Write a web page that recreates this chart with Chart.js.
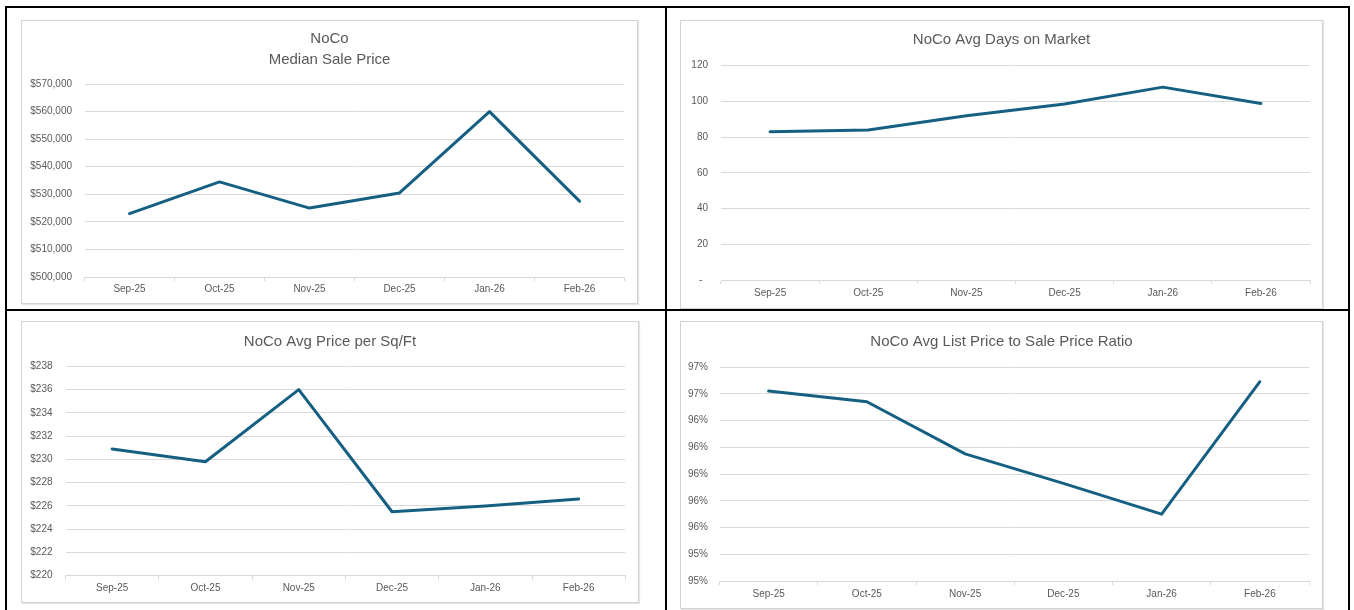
<!DOCTYPE html>
<html>
<head>
<meta charset="utf-8">
<title>NoCo Market Trends</title>
<script src="https://cdn.jsdelivr.net/npm/chart.js@4.4.1/dist/chart.umd.min.js"></script>
<style>
  html, body { margin: 0; padding: 0; background: #fff; }
  body { position: relative; width: 1354px; height: 610px; overflow: hidden; }
  .rule { position: absolute; background: #000; }
  .frame { position: absolute; box-sizing: border-box; border: 1px solid #d3d3d3;
           box-shadow: 1px 1px 1px rgba(0,0,0,0.10); background: #fff; }
  .frame canvas { display: block; }
</style>
</head>
<body>
<!-- table rules around the four charts -->
<div class="rule" style="left:5px;top:6px;width:1345px;height:2px"></div>
<div class="rule" style="left:5px;top:6px;width:2px;height:604px"></div>
<div class="rule" style="left:1348px;top:6px;width:2px;height:604px"></div>
<div class="rule" style="left:665px;top:6px;width:2px;height:604px"></div>
<div class="rule" style="left:5px;top:309px;width:1345px;height:2px"></div>

<div class="frame" style="left:21px;top:20px;width:617px;height:284px"><canvas id="cPrice" width="615" height="282"></canvas></div>
<div class="frame" style="left:680px;top:20px;width:643px;height:289px"><canvas id="cDays" width="641" height="287"></canvas></div>
<div class="frame" style="left:21px;top:321px;width:618px;height:282px"><canvas id="cSqft" width="616" height="280"></canvas></div>
<div class="frame" style="left:680px;top:321px;width:643px;height:288px"><canvas id="cRatio" width="641" height="286"></canvas></div>

<script>
// Months shown on every chart
const months = ['Sep-25', 'Oct-25', 'Nov-25', 'Dec-25', 'Jan-26', 'Feb-26'];

// Series values
const medianSalePrice = [523000, 534500, 525000, 530500, 560000, 527500];
const avgDaysOnMarket = [83, 84, 92, 98.6, 108, 98.8];
const avgPricePerSqFt = [230.9, 229.8, 236.0, 225.5, 226.0, 226.6];
const listToSaleRatio = [96.62, 96.54, 96.15, 95.93, 95.70, 96.69]; // percent

// Value-axis tick values
const priceTicks = [500000, 510000, 520000, 530000, 540000, 550000, 560000, 570000];
const daysTicks = [0, 20, 40, 60, 80, 100, 120];
const sqftTicks = [220, 222, 224, 226, 228, 230, 232, 234, 236, 238];
const ratioTicks = [95.2, 95.4, 95.6, 95.8, 96.0, 96.2, 96.4, 96.6, 96.8];

const TEXT = '#595959';
const GRID = '#d9d9d9';
const LINE = '#156082';
const FONT = "'Liberation Sans', Arial, sans-serif";

Chart.defaults.font.family = FONT;
Chart.defaults.color = TEXT;

function lineChart(id, p) {
  const ticks = p.ticks;
  return new Chart(document.getElementById(id), {
    type: 'line',
    data: {
      labels: months,
      datasets: [{
        data: p.values,
        borderColor: LINE,
        borderWidth: 3,
        pointRadius: 0,
        pointHoverRadius: 0,
        tension: 0,
        borderJoinStyle: 'round',
        borderCapStyle: 'round',
        fill: false,
        clip: false
      }]
    },
    options: {
      responsive: false,
      animation: false,
      devicePixelRatio: 1,
      layout: { padding: 0 },
      plugins: {
        legend: { display: false },
        tooltip: { enabled: false },
        title: {
          display: true,
          text: p.title,
          color: TEXT,
          font: { family: FONT, size: 15, weight: 'normal', lineHeight: 1.4 },
          padding: { top: p.titleTop, bottom: p.titleBottom }
        }
      },
      scales: {
        x: {
          offset: true,
          grid: { display: true, offset: true, drawOnChartArea: false, drawTicks: true,
                  tickLength: 4, color: GRID },
          border: { display: true, color: GRID, width: 1 },
          ticks: { color: TEXT, font: { size: 10 }, padding: p.xPad, maxRotation: 0, autoSkip: false },
          afterFit: s => { s.height = p.xHeight; }
        },
        y: {
          min: ticks[0],
          max: ticks[ticks.length - 1],
          ticks: {
            stepSize: ticks[1] - ticks[0],
            color: TEXT,
            font: { size: 10 },
            padding: p.yPad,
            callback: p.fmt
          },
          grid: { color: GRID, lineWidth: 1, drawTicks: false },
          border: { display: false },
          afterFit: s => { s.width = p.yWidth; }
        },
        gap: {
          type: 'linear',
          position: 'right',
          display: true,
          grid: { display: false, drawTicks: false },
          border: { display: false },
          ticks: { display: false },
          afterFit: s => { s.width = p.rightGap; }
        }
      }
    }
  });
}

const usd = v => '$' + Math.round(v).toLocaleString('en-US');

lineChart('cPrice', {
  title: ['NoCo', 'Median Sale Price'],
  values: medianSalePrice, ticks: priceTicks, fmt: usd,
  titleTop: 7.5, titleBottom: 13.5,
  yWidth: 62.5, yPad: 12.5, rightGap: 12.5, xHeight: 26, xPad: 2
});

lineChart('cDays', {
  title: 'NoCo Avg Days on Market',
  values: avgDaysOnMarket, ticks: daysTicks,
  fmt: v => (Math.round(v) === 0 ? '-  ' : String(Math.round(v))),
  titleTop: 8.5, titleBottom: 15.2,
  yWidth: 40, yPad: 13, rightGap: 12, xHeight: 28, xPad: 3
});

lineChart('cSqft', {
  title: 'NoCo Avg Price per Sq/Ft',
  values: avgPricePerSqFt, ticks: sqftTicks, fmt: usd,
  titleTop: 9.2, titleBottom: 14.1,
  yWidth: 43.5, yPad: 13, rightGap: 12.7, xHeight: 26.3, xPad: 3
});

lineChart('cRatio', {
  title: 'NoCo Avg List Price to Sale Price Ratio',
  values: listToSaleRatio, ticks: ratioTicks,
  fmt: v => Math.round(v) + '%',
  titleTop: 9.2, titleBottom: 14.8,
  yWidth: 38.5, yPad: 11.5, rightGap: 13, xHeight: 27, xPad: 3
});
</script>
</body>
</html>
